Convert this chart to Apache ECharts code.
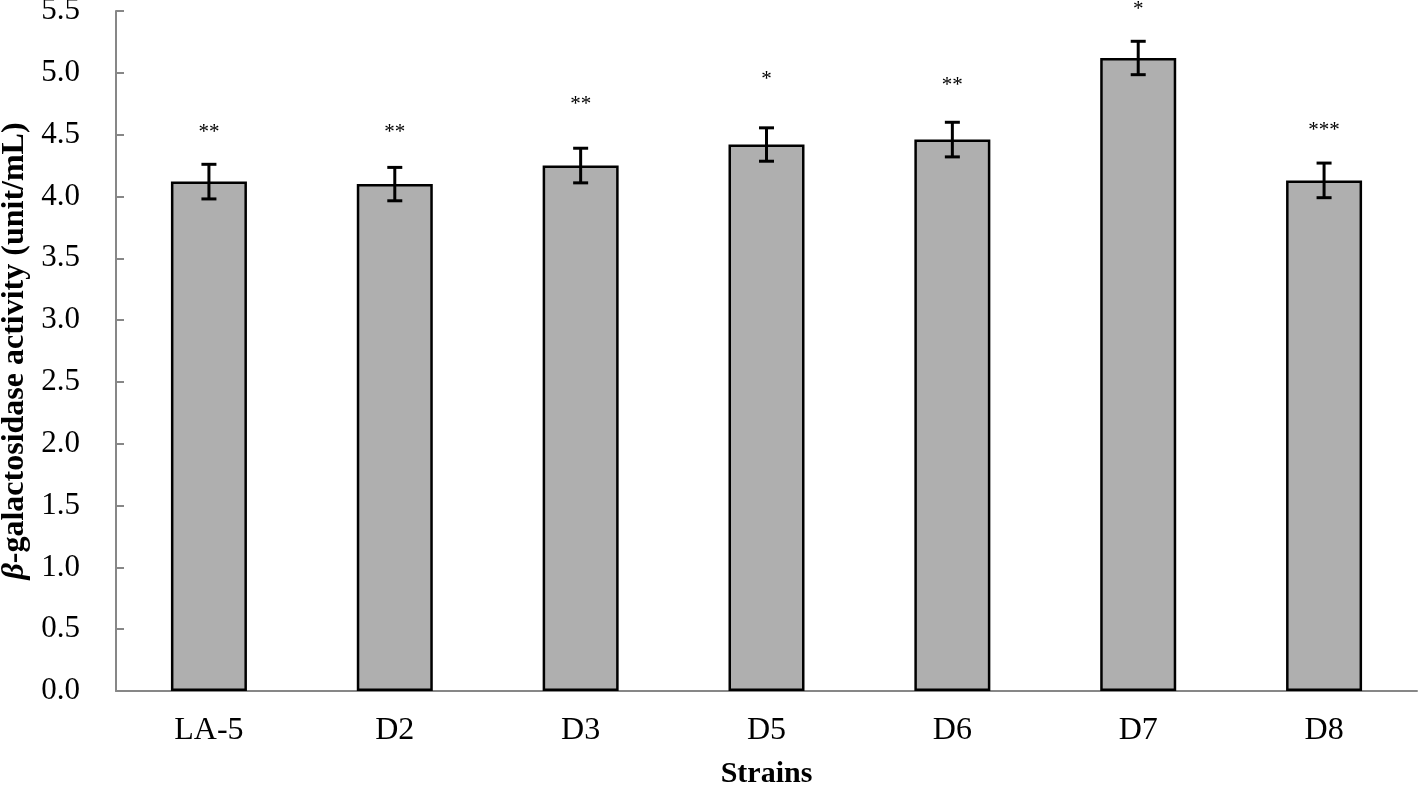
<!DOCTYPE html>
<html>
<head>
<meta charset="utf-8">
<script src="https://cdn.jsdelivr.net/npm/echarts@6/dist/echarts.min.js"></script>
<style>
  html, body { margin: 0; padding: 0; background: #fff; }
  #main { width: 1421px; height: 786px; }
</style>
</head>
<body>
<div id="main"></div>
<script>
// 数据 ------------------
var strains = ['LA-5', 'D2', 'D3', 'D5', 'D6', 'D7', 'D8'];
var activity = [4.12, 4.10, 4.25, 4.42, 4.46, 5.12, 4.13];
var errors = [0.14, 0.135, 0.14, 0.135, 0.14, 0.135, 0.14];
var sigMarks = ['**', '**', '**', '*', '**', '*', '***'];
var sigLevel = [4.52, 4.52, 4.74, 4.95, 4.90, 5.51, 4.53];
var yTicks = { min: 0, max: 5.5, step: 0.5 };

var serif = '"Liberation Serif", "Times New Roman", serif';
var axisGray = '#878787';

var chart = echarts.init(document.getElementById('main'));

// 误差线
function renderError(params, api) {
	var i = api.value(0);
	var hi = api.coord([i, api.value(1) + api.value(2)]);
	var lo = api.coord([i, api.value(1) - api.value(2)]);
	var cap = 7.5;
	var st = { stroke: '#000', lineWidth: 3 };
	return {
		type: 'group',
		children: [
			{ type: 'line', shape: { x1: hi[0], y1: hi[1], x2: lo[0], y2: lo[1] }, style: st },
			{ type: 'line', shape: { x1: hi[0] - cap, y1: hi[1], x2: hi[0] + cap, y2: hi[1] }, style: st },
			{ type: 'line', shape: { x1: lo[0] - cap, y1: lo[1], x2: lo[0] + cap, y2: lo[1] }, style: st }
		]
	};
}

// 显著性标记
function renderSig(params, api) {
	var i = api.value(0);
	var p = api.coord([i, api.value(1)]);
	return {
		type: 'text',
		x: p[0],
		y: p[1],
		style: {
			text: sigMarks[i],
			fill: '#000',
			font: '21px ' + serif,
			textAlign: 'center',
			textVerticalAlign: 'middle'
		}
	};
}

var option = {
	backgroundColor: '#fff',
	animation: false,
	grid: { left: 116, right: 4, top: 11, bottom: 95, containLabel: false, outerBoundsMode: 'none' },
	xAxis: {
		type: 'category',
		data: strains,
		name: 'Strains',
		nameLocation: 'middle',
		nameGap: 68,
		nameTextStyle: { fontFamily: serif, fontWeight: 'bold', fontSize: 30, color: '#000' },
		axisLine: { lineStyle: { color: axisGray, width: 2 } },
		axisTick: { inside: true, length: 8, lineStyle: { color: axisGray, width: 2 } },
		axisLabel: { fontFamily: serif, fontSize: 32, color: '#000', margin: 24 }
	},
	yAxis: {
		type: 'value',
		min: yTicks.min,
		max: yTicks.max,
		interval: yTicks.step,
		name: '{b|β}-galactosidase activity (unit/mL)',
		nameLocation: 'middle',
		nameRotate: 90,
		nameGap: 83,
		nameTextStyle: {
			fontFamily: serif, fontWeight: 'bold', fontSize: 32, color: '#000',
			rich: { b: { fontFamily: serif, fontWeight: 'bold', fontStyle: 'italic', fontSize: 32, color: '#000' } }
		},
		splitLine: { show: false },
		axisLine: { show: true, lineStyle: { color: axisGray, width: 2 } },
		axisTick: { show: true, inside: true, length: 8, lineStyle: { color: axisGray, width: 2 } },
		axisLabel: {
			fontFamily: serif, fontSize: 31, color: '#000', margin: 36,
			formatter: function (v) { return v.toFixed(1); }
		}
	},
	series: [
		{
			type: 'bar',
			data: activity,
			barWidth: 76,
			itemStyle: { color: '#afafaf', borderColor: '#000', borderWidth: 2.5 },
			z: 2
		},
		{
			type: 'custom',
			renderItem: renderError,
			data: activity.map(function (v, i) { return [i, v, errors[i]]; }),
			z: 3
		},
		{
			type: 'custom',
			renderItem: renderSig,
			data: sigLevel.map(function (v, i) { return [i, v]; }),
			z: 3
		}
	]
};

chart.setOption(option);
</script>
</body>
</html>
